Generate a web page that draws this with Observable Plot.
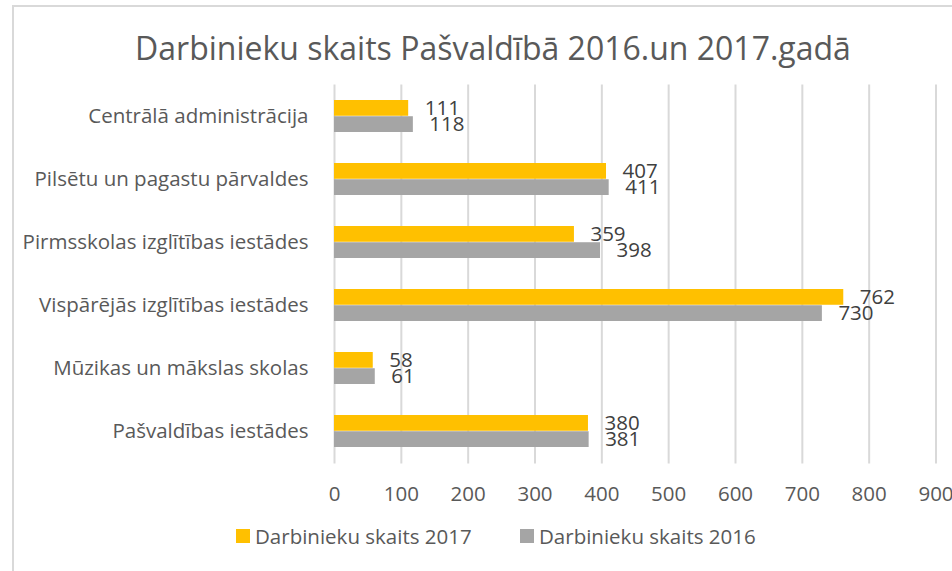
<!DOCTYPE html>
<html>
<head>
<meta charset="utf-8">
<script src="https://cdn.jsdelivr.net/npm/d3@7"></script>
<script src="https://cdn.jsdelivr.net/npm/@observablehq/plot@0.6"></script>
<style>
  html, body { margin: 0; padding: 0; background: #fff; overflow: hidden; width: 952px; height: 571px; }
  #frame { position: absolute; left: 12px; top: 5px; width: 1000px; height: 700px; border: 2px solid #D9D9D9; box-sizing: border-box; pointer-events: none; }
  #wrap { position: absolute; left: 0; top: 0; width: 952px; font-family: "Open Sans", sans-serif; color: #595959; }
  #title { height: 66px; text-align: center; font-size: 32px; line-height: 36px; padding-top: 30px; padding-left: 34px; box-sizing: border-box; white-space: nowrap; }
  #legend { height: 61px; position: relative; font-size: 20.5px; }
  .item { position: absolute; top: 12px; display: flex; align-items: center; white-space: nowrap; }
  .sw { width: 14px; height: 14px; margin-right: 5px; }
</style>
</head>
<body>
<div id="frame"></div>
<div id="wrap">
  <div id="title"></div>
  <div id="chart"></div>
  <div id="legend"></div>
</div>
<script>
const titleText = "Darbinieku skaits Pašvaldībā 2016.un 2017.gadā";
const categories = [
  "Centrālā administrācija",
  "Pilsētu un pagastu pārvaldes",
  "Pirmsskolas izglītības iestādes",
  "Vispārējās izglītības iestādes",
  "Mūzikas un mākslas skolas",
  "Pašvaldības iestādes"
];
const values2017 = [111, 407, 359, 762, 58, 380];
const values2016 = [118, 411, 398, 730, 61, 381];
const seriesNames = ["Darbinieku skaits 2017", "Darbinieku skaits 2016"];
const seriesColors = ["#FFC000", "#A5A5A5"];
const xTicks = [0, 100, 200, 300, 400, 500, 600, 700, 800, 900];

document.getElementById("title").textContent = titleText;

const rows2017 = categories.map((c, i) => ({category: c, value: values2017[i]}));
const rows2016 = categories.map((c, i) => ({category: c, value: values2016[i]}));

const width = 952, height = 444;
const marginTop = 18.5, marginBottom = 46.5, marginLeft = 334, marginRight = 16.5;
const paddingInner = 0.486, paddingOuter = 0.243;
const step = (height - marginTop - marginBottom) / categories.length;
const half = step * (1 - paddingInner) / 2;

const chart = Plot.plot({
  width, height, marginTop, marginBottom, marginLeft, marginRight,
  style: {fontFamily: "Open Sans, sans-serif", fontSize: "20.5px", color: "#595959", background: "transparent"},
  x: {domain: [0, 900], ticks: xTicks, tickSize: 0, tickPadding: 22, label: null},
  y: {domain: categories, paddingInner, paddingOuter, tickSize: 0, tickPadding: 26, label: null},
  marks: [
    Plot.ruleX(xTicks, {stroke: "#D9D9D9", strokeWidth: 2}),
    Plot.barX(rows2017, {x: "value", y: "category", fill: seriesColors[0], insetBottom: half}),
    Plot.barX(rows2016, {x: "value", y: "category", fill: seriesColors[1], insetTop: half}),
    Plot.text(rows2017, {x: "value", y: "category", text: d => String(d.value), dx: 16, dy: -half / 2, textAnchor: "start", fill: "#404040", fontSize: 20.5}),
    Plot.text(rows2016, {x: "value", y: "category", text: d => String(d.value), dx: 16, dy: half / 2, textAnchor: "start", fill: "#404040", fontSize: 20.5})
  ]
});
document.getElementById("chart").appendChild(chart);

const legend = document.getElementById("legend");
const legendX = [236, 520];
seriesNames.forEach((name, i) => {
  const it = document.createElement("div");
  it.className = "item";
  it.style.left = legendX[i] + "px";
  const sw = document.createElement("span");
  sw.className = "sw";
  sw.style.background = seriesColors[i];
  const tx = document.createElement("span");
  tx.textContent = name;
  it.appendChild(sw); it.appendChild(tx);
  legend.appendChild(it);
});
</script>
</body>
</html>
